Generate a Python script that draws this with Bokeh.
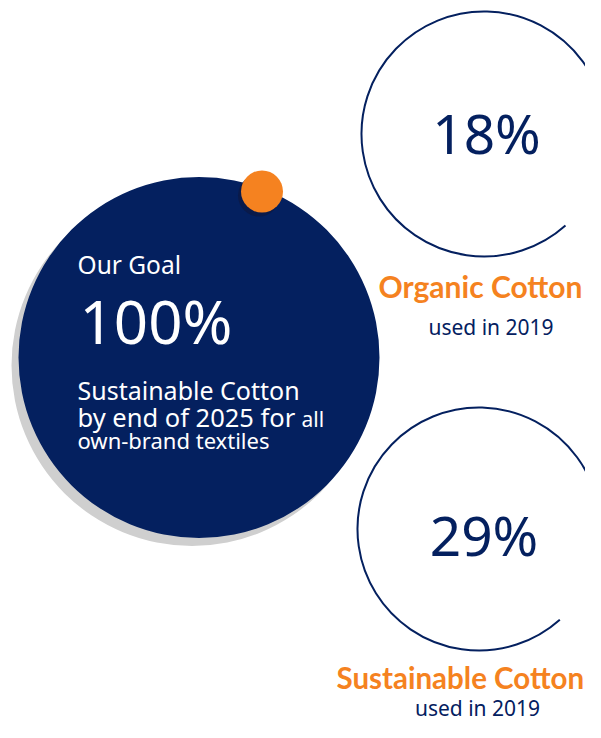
from bokeh.plotting import figure
from bokeh.models import Range1d
from bokeh.core.properties import value
from bokeh.embed import file_html
from bokeh.resources import INLINE

# ---- data ----
goal_label = "Our Goal"
goal_value = "100%"
goal_lines = ["Sustainable Cotton", "by end of 2025 for", "own-brand textiles"]
goal_small_word = "all"
stat_values = ["18%", "29%"]
stat_titles = ["Organic Cotton", "Sustainable Cotton"]
stat_subtitles = ["used in 2019", "used in 2019"]

NAVY = "#04205f"
ORANGE = "#f58220"
GRAY = "#cfcfcf"
FONT = "Noto Sans"

FW, FH = 585, 722


def Y(img_y):
    return FH - img_y


def fs(px):
    return f"{px:.1f}px"


def base(img_baseline, px):
    # compensate for svg alphabetic baseline offset
    return Y(img_baseline - 0.42 * px)


p = figure(width=FW, height=FH, output_backend="svg", toolbar_location=None,
           x_range=Range1d(0, FW), y_range=Range1d(0, FH), min_border=0)
p.axis.visible = False
p.grid.visible = False
p.outline_line_color = None
p.background_fill_color = "white"
p.border_fill_color = "white"

# main goal circle with shadow
p.circle(x=[191.5], y=[Y(365)], radius=180.5, fill_color=GRAY, line_color=None)
p.circle(x=[198.5], y=[Y(357)], radius=180.5, fill_color=NAVY, line_color=None)
# orange dot with shadow
p.circle(x=[258.5], y=[Y(195)], radius=21, fill_color="#0a1a4a", line_color=None)
p.circle(x=[261.5], y=[Y(191)], radius=21, fill_color=ORANGE, line_color=None)

# goal texts
p.text(x=[77], y=[base(274, 24.5)], text=[goal_label], text_color="white",
       text_font=value(FONT), text_font_size=fs(24.5), text_baseline="alphabetic",
       text_align="left")
p.text(x=[79], y=[base(346, 60)], text=[goal_value], text_color="white",
       text_font=value(FONT), text_font_size=fs(60), text_baseline="alphabetic",
       text_align="left")
line_sizes = [25, 25.5, 22]
line_bases = [400, 427, 449]
p.text(x=[77, 77, 77], y=[base(b, s) for b, s in zip(line_bases, line_sizes)],
       text=goal_lines, text_color="white", text_font=value(FONT),
       text_font_size=[fs(s) for s in line_sizes],
       text_baseline="alphabetic", text_align="left")
p.text(x=[301], y=[base(427, 21)], text=[goal_small_word], text_color="white",
       text_font=value(FONT), text_font_size=fs(21), text_baseline="alphabetic",
       text_align="left")

# stat rings
ring_x = [483.5, 478.5]
ring_y = [Y(133.5), Y(528.5)]
ring_r = [122.5, 121.5]
p.arc(x=ring_x, y=ring_y, radius=ring_r, start_angle=12.5, end_angle=-48.3,
      start_angle_units="deg", end_angle_units="deg", direction="anticlock",
      line_color=NAVY, line_width=2)

p.text(x=[486, 483.5], y=[base(155, 55), base(557, 55)], text=stat_values,
       text_color=NAVY, text_font=value(FONT), text_font_size=fs(55),
       text_baseline="alphabetic", text_align="center")
p.text(x=[480, 336], y=[base(298, 30), base(689, 29.5)], text=stat_titles,
       text_color=ORANGE, text_font=value("Lato"), text_font_style="bold",
       text_font_size=[fs(30), fs(29.5)], text_baseline="alphabetic",
       text_align=["center", "left"])
p.text(x=[490.5, 477], y=[base(335, 21), base(716, 21)], text=stat_subtitles,
       text_color=NAVY, text_font=value(FONT), text_font_size=fs(21),
       text_baseline="alphabetic", text_align="center")

open("out.html", "w").write(file_html(p, INLINE))
